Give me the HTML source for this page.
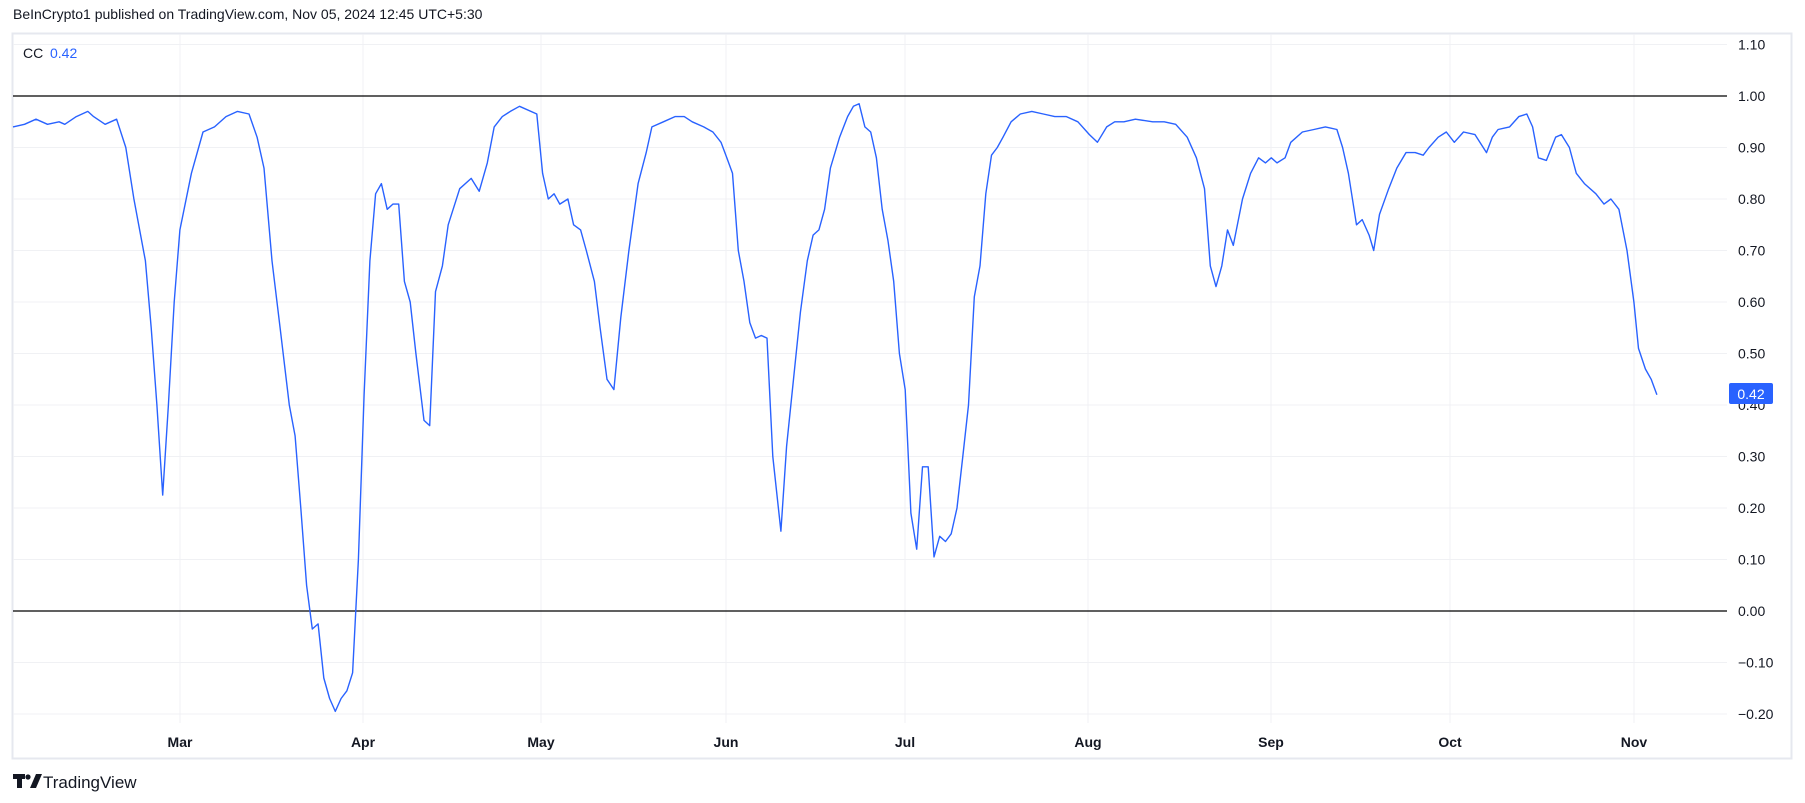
<!DOCTYPE html>
<html><head><meta charset="utf-8"><style>
body{margin:0;background:#fff;font-family:"Liberation Sans",sans-serif;}
</style></head><body>
<svg width="1805" height="803" xmlns="http://www.w3.org/2000/svg" style="display:block">
<rect width="1805" height="803" fill="#fff"/>
<text x="13" y="19" font-size="14" fill="#131722" font-family="Liberation Sans, sans-serif">BeInCrypto1 published on TradingView.com, Nov 05, 2024 12:45 UTC+5:30</text>
<rect x="12.5" y="33.5" width="1779" height="725" fill="none" stroke="#e6e8ef" stroke-width="2"/>
<g id="grid" stroke="#f0f1f4" stroke-width="1"></g>
<line x1="13" y1="96" x2="1727" y2="96" stroke="#000" stroke-width="1.3"/>
<line x1="13" y1="611" x2="1727" y2="611" stroke="#000" stroke-width="1.3"/>
<polyline id="ln" fill="none" stroke="#2962ff" stroke-width="1.4" stroke-linejoin="round"/>
<g id="ylab" font-size="14" fill="#131722" font-family="Liberation Sans, sans-serif"></g>
<g id="xlab" font-size="14" font-weight="bold" fill="#131722" text-anchor="middle" font-family="Liberation Sans, sans-serif"></g>
<text x="23" y="58" font-size="14" fill="#131722">CC</text>
<text x="50" y="58" font-size="14" fill="#2962ff">0.42</text>
<rect x="1729" y="383" width="44" height="21" rx="2" fill="#2962ff"/>
<text x="1751" y="399" font-size="14" fill="#fff" text-anchor="middle">0.42</text>
<g transform="translate(13,774)"><rect x="0" y="0" width="12" height="5" fill="#131722"/><rect x="4" y="0" width="5" height="14" fill="#131722"/><circle cx="15" cy="3" r="2.6" fill="#131722"/><polygon points="17,14 23,0 29,0 23,14" fill="#131722"/></g>
<text x="43" y="788" font-size="17" fill="#131722">TradingView</text>
</svg>
<script>
var ns="http://www.w3.org/2000/svg";
function Y(v){return 611-v*515;}
var g=document.getElementById('grid'),yl=document.getElementById('ylab'),xl=document.getElementById('xlab');
for(var i=-2;i<=11;i++){var v=i/10,y=Y(v);
 if(i!=0&&i!=10){var l=document.createElementNS(ns,'line');l.setAttribute('x1',13);l.setAttribute('x2',1727);l.setAttribute('y1',y);l.setAttribute('y2',y);g.appendChild(l);}
 if(i==4)continue;
 var t=document.createElementNS(ns,'text');t.setAttribute('x',1738);t.setAttribute('y',y+5);t.textContent=(v<0?'−':'')+Math.abs(v).toFixed(2);yl.appendChild(t);}
var t4=document.createElementNS(ns,'text');t4.setAttribute('x',1738);t4.setAttribute('y',Y(0.4)+5);t4.textContent='0.40';yl.insertBefore(t4,yl.firstChild);
var months=[['Mar',180],['Apr',363],['May',541],['Jun',726],['Jul',905],['Aug',1088],['Sep',1271],['Oct',1450],['Nov',1634]];
months.forEach(function(m){var l=document.createElementNS(ns,'line');l.setAttribute('x1',m[1]);l.setAttribute('x2',m[1]);l.setAttribute('y1',34);l.setAttribute('y2',723);g.appendChild(l);
 var t=document.createElementNS(ns,'text');t.setAttribute('x',m[1]);t.setAttribute('y',747);t.textContent=m[0];xl.appendChild(t);});
var d=[10,.94,20,.945,30,.955,40,.945,50,.95,55,.945,65,.96,75,.97,80,.96,90,.945,100,.955,108,.9,115,.8,125,.68,130,.55,135,.4,140,.225,145,.4,150,.6,155,.74,165,.85,175,.93,185,.94,195,.96,205,.97,215,.965,222,.92,228,.86,235,.68,242,.55,250,.4,255,.34,260,.2,265,.05,270,-.035,275,-.025,280,-.13,285,-.17,290,-.195,295,-.17,300,-.155,305,-.12,310,.1,315,.42,320,.68,325,.81,330,.83,335,.78,340,.79,345,.79,350,.64,355,.6,360,.5,367,.37,372,.36,377,.62,383,.67,388,.75,398,.82,408,.84,415,.815,422,.87,428,.94,435,.96,442,.97,450,.98,465,.965,470,.85,475,.8,480,.81,485,.79,492,.8,497,.75,503,.74,508,.7,515,.64,520,.55,526,.45,532,.43,538,.57,545,.7,553,.83,560,.89,565,.94,575,.95,585,.96,593,.96,600,.95,610,.94,618,.93,625,.91,630,.88,635,.85,640,.7,645,.64,650,.56,655,.53,660,.535,665,.53,670,.3,677,.155,682,.32,688,.45,694,.58,700,.68,705,.73,710,.74,715,.78,720,.86,728,.92,735,.96,740,.98,745,.985,750,.94,755,.93,760,.88,765,.78,770,.72,775,.64,780,.5,785,.43,790,.19,795,.12,800,.28,805,.28,810,.105,815,.145,820,.135,825,.15,830,.2,835,.3,840,.4,845,.61,850,.67,855,.81,860,.885,865,.9,870,.92,877,.95,885,.965,895,.97,905,.965,915,.96,925,.96,935,.95,945,.925,952,.91,960,.94,967,.95,975,.95,985,.955,1000,.95,1010,.95,1020,.945,1030,.92,1038,.88,1045,.82,1050,.67,1055,.63,1060,.67,1065,.74,1070,.71,1078,.8,1085,.85,1092,.88,1098,.87,1103,.88,1108,.87,1115,.88,1120,.91,1130,.93,1140,.935,1150,.94,1160,.935,1165,.9,1170,.85,1177,.75,1182,.76,1188,.73,1192,.7,1197,.77,1205,.82,1212,.86,1220,.89,1228,.89,1235,.885,1240,.9,1248,.92,1255,.93,1262,.91,1270,.93,1280,.925,1290,.89,1295,.92,1300,.935,1310,.94,1318,.96,1325,.965,1330,.94,1335,.88,1342,.875,1350,.92,1355,.925,1362,.9,1368,.85,1375,.83,1385,.81,1392,.79,1398,.8,1405,.78,1412,.7,1418,.6,1422,.51,1428,.47,1433,.45,1438,.42];
var p=[];for(var i=0;i<d.length;i+=2){p.push((d[i]*1.1512+1.5).toFixed(1)+','+Y(d[i+1]).toFixed(1));}
document.getElementById('ln').setAttribute('points',p.join(' '));
</script>
</body></html>
